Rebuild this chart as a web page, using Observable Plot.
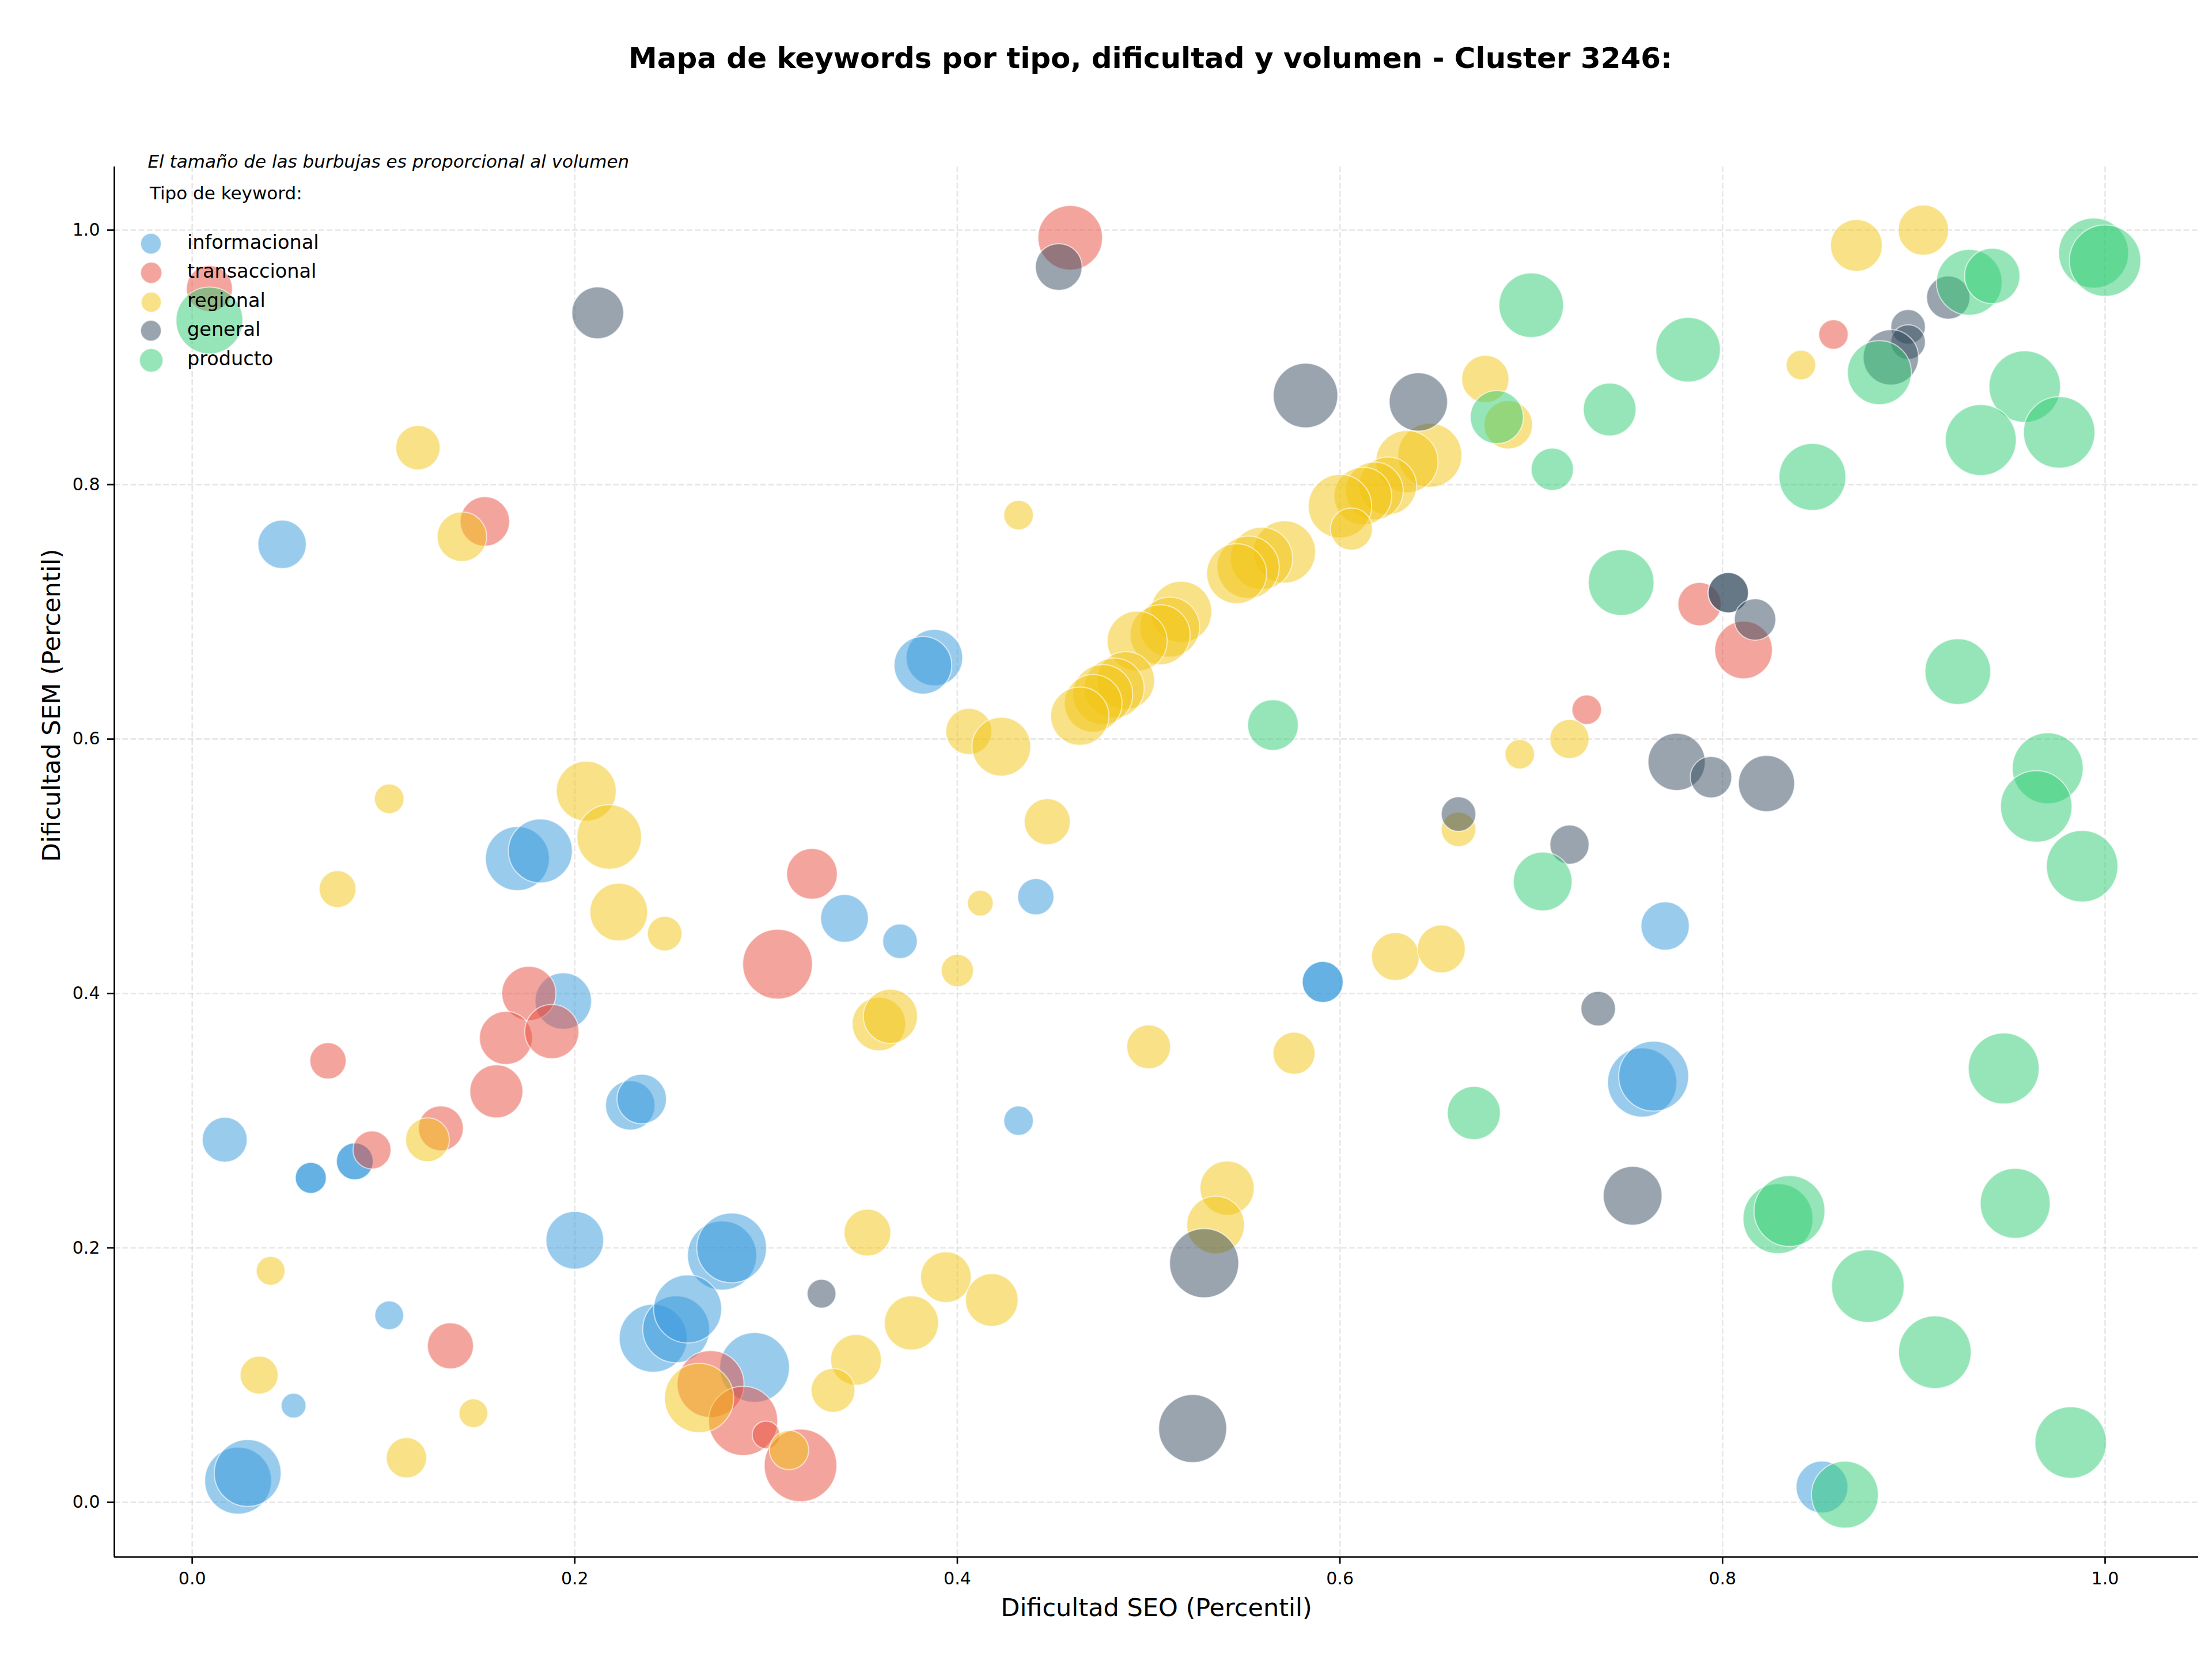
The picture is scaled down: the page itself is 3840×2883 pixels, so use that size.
<!DOCTYPE html>
<html><head><meta charset="utf-8">
<script src="https://cdn.jsdelivr.net/npm/d3@7"></script>
<script src="https://cdn.jsdelivr.net/npm/@observablehq/plot@0.6"></script>
<style>
body{margin:0;background:#fff;font-family:"DejaVu Sans",sans-serif;}
#wrap{position:relative;width:3840px;height:2883px;background:#fff;}
#title{position:absolute;left:188px;width:3618px;top:76px;text-align:center;font-weight:bold;font-size:50px;line-height:1;white-space:nowrap;}
#chart{position:absolute;left:0;top:200px;}
.lg{position:absolute;line-height:1;white-space:nowrap;}
.sw{position:absolute;border-radius:50%;box-sizing:border-box;border:1.5px solid rgba(255,255,255,0.6);}
</style></head><body>
<div id="wrap"><div id="title"></div><div id="chart"></div><div id="legend"></div></div>
<script>
// ---- data ----
const titleText = "Mapa de keywords por tipo, dificultad y volumen - Cluster 3246:";
const noteText = "El tamaño de las burbujas es proporcional al volumen";
const legendTitle = "Tipo de keyword:";
const xLabel = "Dificultad SEO (Percentil)";
const yLabel = "Dificultad SEM (Percentil)";
const categories = ["informacional", "transaccional", "regional", "general", "producto"];
const colors = ["#3498db", "#e74c3c", "#f1c40f", "#34495e", "#2ecc71"];
const tickValues = [0, 0.2, 0.4, 0.6, 0.8, 1.0];

// [dificultad SEO, dificultad SEM, volumen]
const informacional = [
  [0.047,0.753,441],[0.388,0.664,600],[0.382,0.658,625],[0.170,0.506,770],[0.182,0.512,770],
  [0.341,0.459,431],[0.194,0.394,600],[0.017,0.285,380],[0.062,0.255,182],[0.062,0.255,182],
  [0.085,0.268,256],[0.085,0.268,256],[0.103,0.147,156],[0.200,0.206,625],[0.053,0.076,116],
  [0.024,0.017,841],[0.029,0.023,841],[0.229,0.312,462],[0.235,0.317,462],[0.277,0.194,900],
  [0.282,0.200,915],[0.241,0.129,870],[0.253,0.136,841],[0.259,0.152,870],[0.294,0.106,915],
  [0.370,0.441,225],[0.441,0.476,248],[0.432,0.300,165],[0.591,0.409,317],[0.591,0.409,317],
  [0.770,0.453,441],[0.758,0.330,900],[0.764,0.335,921],[0.852,0.012,506]
];
const transaccional = [
  [0.009,0.954,400],[0.153,0.771,462],[0.459,0.994,784],[0.324,0.494,484],[0.306,0.423,915],
  [0.176,0.400,552],[0.164,0.365,529],[0.188,0.370,552],[0.159,0.323,529],[0.071,0.347,248],
  [0.094,0.277,272],[0.130,0.294,380],[0.135,0.123,400],[0.271,0.093,841],[0.288,0.064,900],
  [0.300,0.053,144],[0.318,0.029,992],[0.858,0.918,164],[0.788,0.706,353],[0.811,0.670,625],
  [0.729,0.623,164]
];
const regional = [
  [0.118,0.829,370],[0.141,0.759,462],[0.432,0.776,165],
  [0.647,0.823,770],[0.635,0.818,729],[0.625,0.799,625],[0.618,0.795,625],[0.612,0.791,625],
  [0.600,0.783,756],[0.606,0.765,333],[0.571,0.747,729],[0.559,0.742,729],[0.552,0.735,729],
  [0.546,0.730,676],[0.517,0.700,702],[0.511,0.688,676],[0.506,0.682,676],[0.494,0.677,676],
  [0.488,0.646,625],[0.482,0.640,676],[0.476,0.635,676],[0.471,0.628,625],[0.464,0.618,638],
  [0.406,0.606,400],[0.423,0.594,650],[0.870,0.988,506],[0.905,1.000,475],[0.841,0.894,164],
  [0.676,0.883,420],[0.688,0.847,441],[0.720,0.600,289],[0.694,0.588,164],[0.103,0.553,165],
  [0.076,0.482,256],[0.206,0.559,676],[0.218,0.523,784],[0.223,0.464,625],[0.247,0.447,225],
  [0.123,0.285,361],[0.041,0.182,156],[0.035,0.100,272],[0.147,0.070,156],[0.112,0.035,306],
  [0.265,0.082,900],[0.312,0.041,289],[0.447,0.535,400],[0.412,0.471,125],[0.400,0.418,196],
  [0.359,0.376,538],[0.365,0.382,552],[0.500,0.358,361],[0.576,0.353,333],[0.629,0.429,431],
  [0.653,0.435,431],[0.662,0.529,225],[0.541,0.247,552],[0.535,0.218,625],[0.353,0.212,412],
  [0.394,0.177,484],[0.418,0.159,520],[0.376,0.141,552],[0.347,0.112,484],[0.335,0.088,361]
];
const general = [
  [0.212,0.935,506],[0.453,0.971,412],[0.582,0.870,784],[0.641,0.865,640],[0.918,0.947,353],
  [0.897,0.924,225],[0.897,0.912,225],[0.888,0.900,576],[0.803,0.715,306],[0.803,0.715,306],
  [0.817,0.694,324],[0.329,0.164,156],[0.662,0.541,225],[0.529,0.188,900],[0.523,0.058,870],
  [0.776,0.582,615],[0.794,0.570,324],[0.823,0.565,593],[0.720,0.517,289],[0.735,0.388,225],
  [0.753,0.241,650]
];
const producto = [
  [0.009,0.929,841],[0.565,0.611,484],[0.994,0.982,921],[1.000,0.976,961],[0.929,0.959,812],
  [0.941,0.964,576],[0.882,0.888,770],[0.958,0.877,961],[0.976,0.841,961],[0.935,0.835,946],
  [0.847,0.806,841],[0.782,0.906,784],[0.700,0.941,784],[0.741,0.859,522],[0.711,0.812,337],
  [0.682,0.853,529],[0.747,0.723,812],[0.923,0.653,812],[0.670,0.306,529],[0.706,0.488,650],
  [0.829,0.223,921],[0.835,0.229,946],[0.947,0.341,946],[0.953,0.235,921],[0.876,0.170,992],
  [0.911,0.118,992],[0.982,0.047,961],[0.864,0.006,841],[0.970,0.577,946],[0.964,0.547,961],
  [0.988,0.500,961]
];
const seriesByCategory = [informacional, transaccional, regional, general, producto];

// ---- build table ----
const rows = [];
categories.forEach((c, i) => {
  for (const p of seriesByCategory[i]) rows.push({tipo: c, seo: p[0], sem: p[1], volumen: p[2]});
});

const xDomain = [-0.0407, 1.0488];
const yDomain = [-0.0430, 1.0498];
const gridStyle = {stroke: "#b0b0b0", strokeOpacity: 0.3, strokeWidth: 2.67, strokeDasharray: "9.9,4.3"};

const chart = Plot.plot({
  width: 3840,
  height: 2683,
  marginLeft: 198,
  marginRight: 24,
  marginTop: 89,
  marginBottom: 181,
  style: {fontFamily: "DejaVu Sans", background: "white", color: "black", overflow: "visible"},
  x: {domain: xDomain},
  y: {domain: yDomain},
  r: {type: "sqrt", domain: [0, 1000], range: [0, 63.25]},
  color: {domain: categories, range: colors},
  marks: [
    Plot.gridX({ticks: tickValues, ...gridStyle}),
    Plot.gridY({ticks: tickValues, ...gridStyle}),
    Plot.dot(rows, {x: "seo", y: "sem", r: "volumen", fill: "tipo", fillOpacity: 0.5,
      stroke: "white", strokeOpacity: 0.6, strokeWidth: 2, sort: null}),
    Plot.ruleX([xDomain[0]], {stroke: "black", strokeWidth: 2.67}),
    Plot.ruleY([yDomain[0]], {stroke: "black", strokeWidth: 2.67}),
    Plot.axisX({ticks: tickValues, tickFormat: d3.format(".1f"), tickSize: 12, tickPadding: 14,
      fontSize: 30, strokeWidth: 2.67, label: null}),
    Plot.axisY({ticks: tickValues, tickFormat: d3.format(".1f"), tickSize: 12, tickPadding: 13,
      fontSize: 30, strokeWidth: 2.67, label: null}),
    Plot.text([xLabel], {text: d => d, frameAnchor: "bottom", dy: 102, lineAnchor: "bottom", fontSize: 43}),
    Plot.text([yLabel], {text: d => d, frameAnchor: "left", dx: -95, rotate: -90, lineAnchor: "bottom", fontSize: 43}),
    Plot.text([noteText], {text: d => d, frameAnchor: "top-left", dx: 58, dy: 1, lineAnchor: "bottom",
      textAnchor: "start", fontStyle: "italic", fontSize: 31})
  ]
});
document.getElementById("chart").appendChild(chart);
document.getElementById("title").textContent = titleText;

// ---- legend (inside plot, top-left) ----
const legend = document.getElementById("legend");
const lt = document.createElement("div");
lt.className = "lg";
lt.style.left = "260px"; lt.style.top = "320px"; lt.style.fontSize = "31px";
lt.textContent = legendTitle;
legend.appendChild(lt);
const legendCenters = [423, 473, 524, 574, 625];
const swatchSizes = [36, 37, 35, 36, 41];
categories.forEach((c, i) => {
  const rgb = d3.rgb(colors[i]);
  const sw = document.createElement("div");
  sw.className = "sw";
  const d = swatchSizes[i];
  sw.style.width = d + "px"; sw.style.height = d + "px";
  sw.style.left = (262 - d / 2) + "px"; sw.style.top = (legendCenters[i] - d / 2) + "px";
  sw.style.background = `rgba(${rgb.r},${rgb.g},${rgb.b},0.5)`;
  legend.appendChild(sw);
  const t = document.createElement("div");
  t.className = "lg";
  t.style.left = "325px"; t.style.top = (legendCenters[i] + 9 - 28) + "px"; t.style.fontSize = "33.5px";
  t.textContent = c;
  legend.appendChild(t);
});
</script>
</body></html>
